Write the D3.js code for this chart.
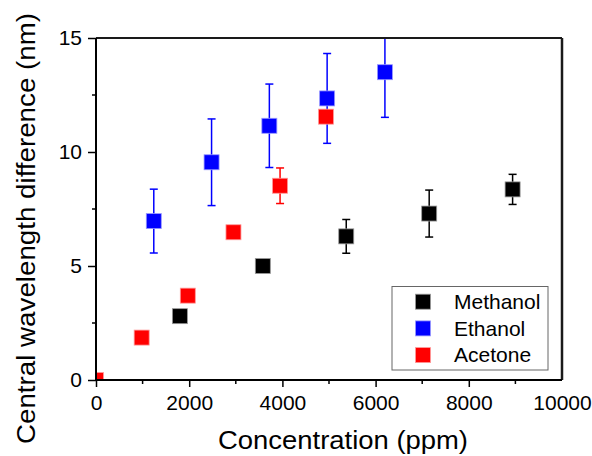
<!DOCTYPE html>
<html><head><meta charset="utf-8">
<script src="https://cdn.jsdelivr.net/npm/d3@7"></script>
<style>body{margin:0;background:#fff}svg{display:block}text{font-family:Arial,"Liberation Sans",sans-serif}</style>
</head><body>
<script>
const seriesNames = ["Methanol", "Ethanol", "Acetone"];
const seriesColors = ["#000000", "#0000ff", "#ff0000"];
const methanolX = [1800, 3580, 5370, 7150, 8940];
const methanolY = [2.8, 5.0, 6.3, 7.3, 8.36];
const methanolErr = [0, 0, 0.74, 1.03, 0.66];
const ethanolX = [1240, 2480, 3720, 4960, 6200];
const ethanolY = [6.97, 9.55, 11.15, 12.35, 13.5];
const ethanolErr = [1.4, 1.9, 1.83, 1.97, 1.98];
const acetoneX = [0, 980, 1970, 2950, 3950, 4935];
const acetoneY = [0, 1.86, 3.7, 6.48, 8.52, 11.55];
const acetoneErr = [0, 0, 0, 0, 0.78, 0];
const xTicks = [0, 2000, 4000, 6000, 8000, 10000];
const yTicks = [0, 5, 10, 15];
const xTitle = "Concentration (ppm)";
const yTitle = "Central wavelength difference (nm)";

const W = 592, H = 456;
const m = {l: 96, r: 30, t: 38, b: 76};
const svg = d3.select("body").append("svg").attr("width", W).attr("height", H);
const x = d3.scaleLinear().domain([0, 10000]).range([m.l, W - m.r]);
const y = d3.scaleLinear().domain([0, 15]).range([H - m.b, m.t]);

svg.append("clipPath").attr("id", "clip").append("rect")
  .attr("x", m.l).attr("y", m.t).attr("width", W - m.r - m.l).attr("height", H - m.b - m.t);

const series = [
  {name: seriesNames[0], color: seriesColors[0], xs: methanolX, ys: methanolY, es: methanolErr},
  {name: seriesNames[1], color: seriesColors[1], xs: ethanolX, ys: ethanolY, es: ethanolErr},
  {name: seriesNames[2], color: seriesColors[2], xs: acetoneX, ys: acetoneY, es: acetoneErr}
];

const plot = svg.append("g").attr("clip-path", "url(#clip)");
const order = [0, 2, 1];
order.forEach(i => {
  const s = series[i];
  const g = plot.append("g");
  const pts = s.xs.map((v, k) => ({x: v, y: s.ys[k], e: s.es[k]}));
  const eb = pts.filter(p => p.e > 0);
  g.selectAll(".ev").data(eb).join("line")
    .attr("x1", d => x(d.x)).attr("x2", d => x(d.x))
    .attr("y1", d => y(d.y + d.e)).attr("y2", d => y(d.y - d.e))
    .attr("stroke", s.color).attr("stroke-width", 1.5);
  ["+", "-"].forEach(sg => {
    g.selectAll(".cap" + (sg === "+" ? "t" : "b")).data(eb).join("line")
      .attr("x1", d => x(d.x) - 4).attr("x2", d => x(d.x) + 4)
      .attr("y1", d => y(sg === "+" ? d.y + d.e : d.y - d.e))
      .attr("y2", d => y(sg === "+" ? d.y + d.e : d.y - d.e))
      .attr("stroke", s.color).attr("stroke-width", 1.5);
  });
});
order.forEach(i => {
  const s = series[i];
  const pts = s.xs.map((v, k) => ({x: v, y: s.ys[k]}));
  plot.append("g").selectAll("rect").data(pts).join("rect")
    .attr("x", d => x(d.x) - 7.5).attr("y", d => y(d.y) - 7.5)
    .attr("width", 15).attr("height", 15)
    .attr("fill", s.color)
    .attr("stroke", d3.interpolateRgb(s.color, "#fff")(0.6)).attr("stroke-width", 0.8);
});

// frame top/right
svg.append("line").attr("x1", m.l).attr("x2", W - m.r).attr("y1", m.t).attr("y2", m.t)
  .attr("stroke", "#1a1a1a").attr("stroke-width", 2);
svg.append("line").attr("x1", W - m.r).attr("x2", W - m.r).attr("y1", m.t).attr("y2", H - m.b)
  .attr("stroke", "#1a1a1a").attr("stroke-width", 2.5);

// x axis
const xMinor = d3.range(1000, 10000, 2000);
const gx = svg.append("g").attr("transform", `translate(0,${H - m.b})`);
gx.call(d3.axisBottom(x).tickValues(xTicks).tickFormat(d3.format("d")).tickSize(7).tickPadding(8));
gx.selectAll(".tick").filter(d => d === 10000).select("line").remove();
gx.append("g").selectAll("line").data(xMinor).join("line")
  .attr("x1", d => x(d)).attr("x2", d => x(d)).attr("y1", 0).attr("y2", 4)
  .attr("stroke", "#000").attr("stroke-width", 1.5);
gx.select(".domain").attr("stroke-width", 2).attr("d", `M${m.l - 1},0H${W - m.r}`);
gx.selectAll(".tick line").attr("stroke-width", 1.5);
gx.selectAll("text").attr("font-size", 21).attr("fill", "#000");

// y axis
const yMinor = [2.5, 7.5, 12.5];
const gy = svg.append("g").attr("transform", `translate(${m.l},0)`);
gy.call(d3.axisLeft(y).tickValues(yTicks).tickSize(8).tickPadding(6));
gy.append("g").selectAll("line").data(yMinor).join("line")
  .attr("y1", d => y(d)).attr("y2", d => y(d)).attr("x1", 0).attr("x2", -4)
  .attr("stroke", "#000").attr("stroke-width", 1.5);
gy.select(".domain").attr("stroke-width", 2).attr("d", `M0,${m.t}V${H - m.b + 1}`);
gy.selectAll(".tick line").attr("stroke-width", 1.5);
gy.selectAll("text").attr("font-size", 21).attr("fill", "#000");

// titles
svg.append("text").attr("x", 343).attr("y", 449)
  .attr("text-anchor", "middle").attr("font-size", 26)
  .attr("textLength", 250).attr("lengthAdjust", "spacingAndGlyphs").text(xTitle);
svg.append("text").attr("transform", `translate(35,228.5) rotate(-90)`)
  .attr("text-anchor", "middle").attr("font-size", 26)
  .attr("textLength", 431).attr("lengthAdjust", "spacingAndGlyphs").text(yTitle);

// legend
const lg = svg.append("g");
lg.append("rect").attr("x", 392).attr("y", 286.5).attr("width", 156).attr("height", 83.5)
  .attr("fill", "#fff").attr("stroke", "#666").attr("stroke-width", 1);
series.forEach((s, i) => {
  const cy = 301.7 + i * 26.7;
  lg.append("rect").attr("x", 415.5).attr("y", cy - 7.5).attr("width", 15).attr("height", 15)
    .attr("fill", s.color).attr("stroke", d3.interpolateRgb(s.color, "#fff")(0.6)).attr("stroke-width", 0.8);
  lg.append("text").attr("x", 454).attr("y", cy + 7.3).attr("font-size", 21).text(s.name);
});
</script>
</body></html>
